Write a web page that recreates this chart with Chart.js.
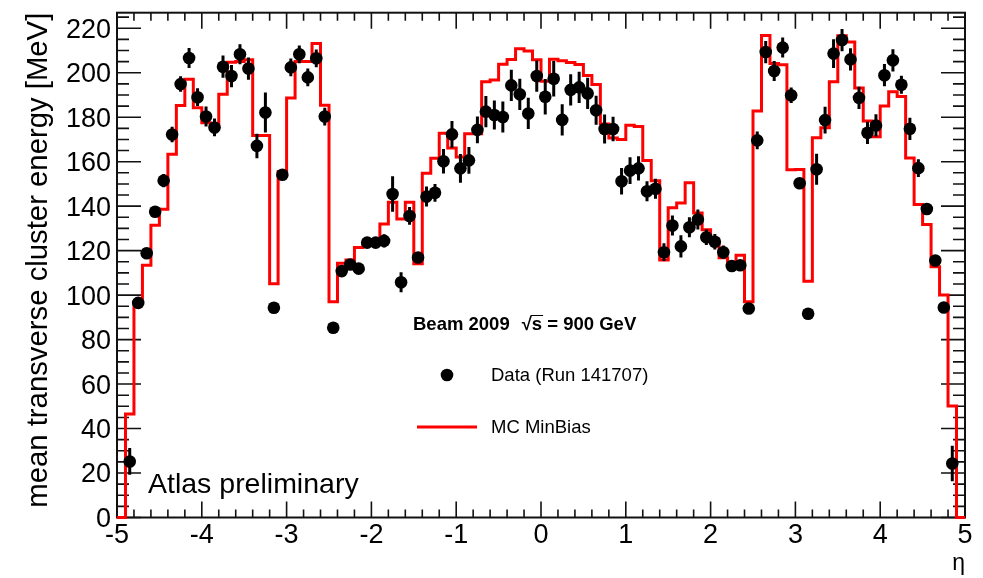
<!DOCTYPE html>
<html>
<head>
<meta charset="utf-8">
<script src="https://cdn.jsdelivr.net/npm/chart.js@4.4.1/dist/chart.umd.min.js"></script>
<style>
  html, body { margin: 0; padding: 0; background: #fff; }
  #contenedor { width: 983px; height: 578px; }
</style>
</head>
<body>
<div id="contenedor"><canvas id="graficaEta"></canvas></div>
<script>
// 📐 Definición del histograma: 100 bins en eta
const etaMin = -5;
const etaMax = 5;
const numBins = 100;

// 🔴 MC MinBias (contenido de cada bin)
const valoresMC = [
  0, 46.5, 96.5, 113.4, 131.4, 138.6, 163.4, 185.3, 197.1, 184.3,
  177.5, 175.5, 190.3, 204.7, 205.0, 205.8, 171.8, 171.8, 105.1, 155.5,
  188.6, 205.0, 205.0, 213.2, 185.4, 97.0, 114.3, 115.8, 121.4, 122.5,
  123.5, 132.0, 141.8, 134.2, 141.8, 114.1, 154.8, 161.5, 172.8, 166.2,
  162.1, 172.6, 172.6, 196.0, 196.7, 203.8, 206.0, 210.8, 209.8, 205.8,
  196.2, 206.1, 205.4, 204.6, 203.7, 198.8, 194.7, 177.0, 170.7, 170.0,
  176.4, 175.8, 160.5, 151.4, 115.8, 139.3, 141.4, 150.5, 136.9, 129.4,
  123.4, 116.8, 113.4, 117.9, 97.0, 182.8, 216.7, 204.2, 203.6, 156.4,
  156.5, 106.2, 170.8, 175.3, 196.0, 216.6, 213.8, 193.1, 178.3, 171.2,
  185.1, 191.5, 189.3, 161.7, 140.8, 131.8, 112.8, 100.1, 50.1, 0
];

// ⚫ Datos (Run 141707), null = bin sin punto
const valoresDatos = [
  null, 25.2, 96.5, 118.8, 137.5, 151.5, 172.2, 194.9, 206.6, 189.0,
  180.3, 175.4, 202.7, 198.5, 208.3, 201.9, 167.1, 182.1, 94.3, 154.1,
  202.4, 208.3, 197.9, 206.5, 180.3, 85.3, 110.8, 113.8, 111.9, 123.6,
  123.6, 124.4, 145.5, 105.8, 135.6, 116.9, 144.3, 146.0, 160.2, 172.3,
  157.0, 160.6, 174.3, 182.5, 181.0, 180.1, 194.3, 190.3, 181.7, 198.5,
  189.2, 197.3, 178.8, 192.3, 193.4, 190.7, 183.1, 174.7, 174.7, 151.2,
  156.0, 157.0, 146.7, 147.8, 119.3, 131.3, 121.9, 130.5, 134.0, 126.0,
  124.0, 119.3, 113.1, 113.4, 94.0, 169.6, 209.3, 200.8, 211.3, 189.9,
  150.3, 91.6, 156.6, 178.7, 208.6, 214.7, 206.0, 188.7, 173.0, 176.3,
  198.9, 205.6, 194.6, 174.8, 157.1, 138.7, 115.6, 94.4, 24.3, null
];

// 📏 Error estadístico de los datos (medio intervalo)
const erroresDatos = [
  0, 6, 2, 2, 2, 3, 3.5, 3.5, 4.5, 4,
  4.5, 4, 5, 5, 4.5, 5, 5.5, 9, 0, 2,
  4, 4, 4, 4, 4, 0, 2, 2, 2, 2,
  2, 3, 8, 4.5, 4, 2, 4.5, 4, 5.5, 6,
  6.5, 6, 6, 7, 6.5, 7, 7, 7, 7, 7,
  8, 8, 7, 7, 7, 7, 6.5, 6.5, 5.5, 6,
  6, 5.5, 4.5, 4.5, 4, 4.5, 5, 4.5, 4.5, 3.5,
  3.5, 3, 2, 2, 0, 4, 5, 4.5, 4.5, 3.5,
  0, 0, 7, 6, 6.5, 5, 5, 5, 5, 5,
  5, 5, 4, 5, 4, 2, 2, 0, 8, 0
];

// 🏷️ Etiquetas de ejes
const ticksX = [-5, -4, -3, -2, -1, 0, 1, 2, 3, 4, 5];
const ticksY = [0, 20, 40, 60, 80, 100, 120, 140, 160, 180, 200, 220];
const yMax = 227;
const tituloEjeY = "mean transverse cluster energy [MeV]";
const tituloEjeX = "η";
const textoAtlas = "Atlas preliminary";
const textoBeam = "Beam 2009";
const textoEnergia = "s = 900 GeV";
const leyendaDatos = "Data (Run 141707)";
const leyendaMC = "MC MinBias";

const anchoBin = (etaMax - etaMin) / numBins;
const fuente = "'Liberation Sans', Arial, Helvetica, sans-serif";

// 🔧 Puntos del contorno escalonado (bordes de bin)
const contornoMC = valoresMC.map((v, i) => ({ x: etaMin + i * anchoBin, y: v }));
contornoMC.push({ x: etaMax, y: valoresMC[numBins - 1] });

const puntosDatos = [];
valoresDatos.forEach((v, i) => {
  if (v === null) return;
  puntosDatos.push({ x: etaMin + (i + 0.5) * anchoBin, y: v, err: erroresDatos[i] });
});

// 🧱 Marco estilo ROOT con ticks hacia dentro
const pluginMarco = {
  id: "marcoRoot",
  beforeDatasetsDraw(chart) {
    const { ctx, chartArea: a, scales: { x, y } } = chart;
    ctx.save();
    ctx.strokeStyle = "#111";
    ctx.lineWidth = 2;
    ctx.strokeRect(a.left, a.top, a.right - a.left, a.bottom - a.top);
    ctx.lineWidth = 1.6;
    ctx.beginPath();
    for (let k = 0; k <= 50; k++) {
      const px = x.getPixelForValue(etaMin + k * 0.2);
      const largo = k % 5 === 0 ? 16 : 8;
      ctx.moveTo(px, a.bottom); ctx.lineTo(px, a.bottom - largo);
      ctx.moveTo(px, a.top); ctx.lineTo(px, a.top + largo);
    }
    for (let k = 0; k * 5 <= yMax; k++) {
      const py = y.getPixelForValue(k * 5);
      const largo = k % 4 === 0 ? 24 : 12;
      ctx.moveTo(a.left, py); ctx.lineTo(a.left + largo, py);
      ctx.moveTo(a.right, py); ctx.lineTo(a.right - largo, py);
    }
    ctx.stroke();
    ctx.restore();
  }
};

// ➕ Barras de error verticales
const pluginErrores = {
  id: "barrasError",
  afterDatasetsDraw(chart) {
    const { ctx, scales: { x, y } } = chart;
    ctx.save();
    ctx.strokeStyle = "#000";
    ctx.lineWidth = 3;
    ctx.beginPath();
    puntosDatos.forEach(p => {
      if (!p.err) return;
      const px = x.getPixelForValue(p.x);
      ctx.moveTo(px, y.getPixelForValue(p.y - p.err));
      ctx.lineTo(px, y.getPixelForValue(p.y + p.err));
    });
    ctx.stroke();
    ctx.restore();
  }
};

// 📝 Textos y leyenda
const pluginTextos = {
  id: "textosAtlas",
  afterDraw(chart) {
    const { ctx } = chart;
    ctx.save();
    ctx.fillStyle = "#000";
    ctx.textBaseline = "alphabetic";
    ctx.textAlign = "left";

    ctx.font = "28.5px " + fuente;
    ctx.fillText(textoAtlas, 148, 493);

    ctx.font = "bold 18.5px " + fuente;
    ctx.fillText(textoBeam, 413, 330);
    const xRaiz = 413 + ctx.measureText(textoBeam).width + 12;
    ctx.fillText("√", xRaiz, 330);
    const xS = xRaiz + ctx.measureText("√").width;
    ctx.fillText(textoEnergia, xS, 330);
    ctx.lineWidth = 1;
    ctx.beginPath();
    ctx.moveTo(xS - 1, 315.5);
    ctx.lineTo(xS + ctx.measureText("s").width + 1, 315.5);
    ctx.stroke();

    ctx.beginPath();
    ctx.arc(447, 375, 6.3, 0, Math.PI * 2);
    ctx.fill();
    ctx.font = "18.5px " + fuente;
    ctx.fillText(leyendaDatos, 491, 381);

    ctx.strokeStyle = "#ff0000";
    ctx.lineWidth = 3;
    ctx.beginPath();
    ctx.moveTo(417, 427);
    ctx.lineTo(477, 427);
    ctx.stroke();
    ctx.fillText(leyendaMC, 491, 433);
    ctx.restore();
  }
};

new Chart(document.getElementById("graficaEta"), {
  type: "scatter",
  data: {
    datasets: [
      {
        label: leyendaDatos,
        data: puntosDatos,
        backgroundColor: "#000",
        borderWidth: 0,
        pointRadius: 6.3,
        pointHoverRadius: 6.3,
        order: 0
      },
      {
        type: "line",
        label: leyendaMC,
        data: contornoMC,
        stepped: "before",
        borderColor: "#ff0000",
        borderWidth: 3,
        pointRadius: 0,
        fill: false,
        clip: 4,
        order: 1
      }
    ]
  },
  options: {
    responsive: true,
    maintainAspectRatio: false,
    animation: false,
    devicePixelRatio: 1,
    layout: { padding: { left: 0, right: 18, top: 12.7, bottom: 0 } },
    plugins: {
      legend: { display: false },
      tooltip: { enabled: false }
    },
    scales: {
      x: {
        type: "linear",
        min: etaMin,
        max: etaMax,
        afterBuildTicks: s => { s.ticks = ticksX.map(v => ({ value: v })); },
        afterFit: s => { s.height = 60.5; },
        grid: { display: false, drawTicks: false },
        border: { display: false },
        ticks: {
          color: "#000",
          padding: 2,
          maxRotation: 0,
          font: { family: fuente, size: 27 }
        },
        title: {
          display: true,
          text: tituloEjeX,
          align: "end",
          color: "#000",
          padding: { top: 0, bottom: 1 },
          font: { family: fuente, size: 23 }
        }
      },
      y: {
        type: "linear",
        min: 0,
        max: yMax,
        afterBuildTicks: s => { s.ticks = ticksY.map(v => ({ value: v })); },
        afterFit: s => { s.width = 117; s.paddingTop = 0; s.paddingBottom = 0; },
        grid: { display: false, drawTicks: false },
        border: { display: false },
        ticks: {
          color: "#000",
          padding: 6,
          labelOffset: 2,
          font: { family: fuente, size: 27 }
        },
        title: {
          display: true,
          text: tituloEjeY,
          align: "end",
          color: "#000",
          padding: { top: 21, bottom: 0 },
          font: { family: fuente, size: 29.3 }
        }
      }
    }
  },
  plugins: [pluginMarco, pluginErrores, pluginTextos]
});
</script>
</body>
</html>
